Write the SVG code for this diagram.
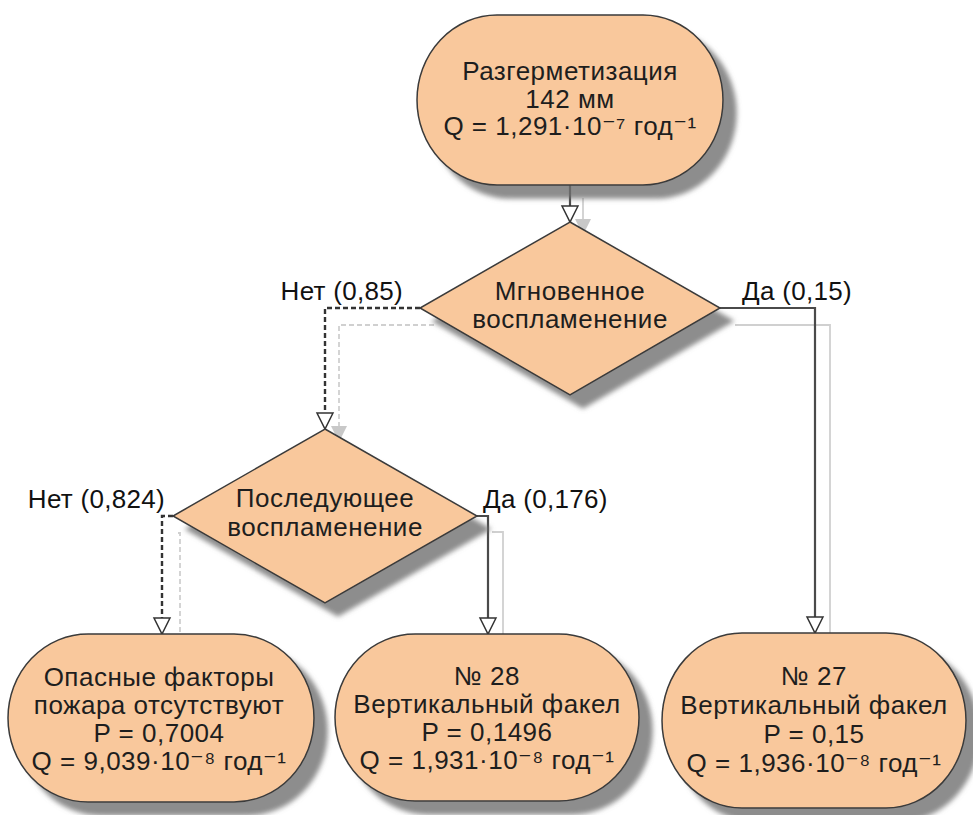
<svg xmlns="http://www.w3.org/2000/svg" width="973" height="815" viewBox="0 0 973 815">
<defs>
<filter id="sh" x="-10%" y="-10%" width="130%" height="130%">
<feDropShadow dx="13" dy="13" stdDeviation="2.5" flood-color="#707070" flood-opacity="0.8"/>
</filter>
<marker id="arr" markerUnits="userSpaceOnUse" markerWidth="20" markerHeight="20" refX="16" refY="8" orient="auto" viewBox="-2 -2 20 20">
<path d="M0,0 L16,8 L0,16 Z" fill="#fff" stroke="#333" stroke-width="1.5"/>
</marker>
<marker id="arrs" markerUnits="userSpaceOnUse" markerWidth="20" markerHeight="20" refX="16" refY="8" orient="auto" viewBox="-2 -2 20 20">
<path d="M0,0 L16,8 L0,16 Z" fill="#c8c8c8"/>
</marker>
</defs>
<style>
.n{fill:#F9C89C;stroke:#3a3a3a;stroke-width:1.5;filter:url(#sh)}
.t{font-family:"Liberation Sans","DejaVu Sans",sans-serif;font-size:26px;letter-spacing:0.5px;fill:#1e1e1e;text-anchor:middle}
.l{font-family:"Liberation Sans","DejaVu Sans",sans-serif;font-size:26px;letter-spacing:0.3px;fill:#111}
.c{fill:none;stroke:#4a4a4a;stroke-width:2.2}
.d{stroke-dasharray:5 3}
.cd{stroke:#333;stroke-width:2.4}
.s{fill:none;stroke:#d0d0d0;stroke-width:1.8}
</style>
<g id="connectors">
<path class="s" d="M583,198 V235" marker-end="url(#arrs)"/>
<path class="s d" d="M434,325 H339 V442" marker-end="url(#arrs)"/>
<path class="s" d="M735,325 H830 V645"/>
<path class="s d" d="M178,533 H180 V645"/>
<path class="s" d="M492,532 H503 V645"/>
<path class="c" d="M570,185 V222" marker-end="url(#arr)"/>
<path class="c d cd" d="M420,308 H325 V429" marker-end="url(#arr)"/>
<path class="c" d="M720,308 H815 V633" marker-end="url(#arr)"/>
<path class="c d cd" d="M173,516 H162 V634" marker-end="url(#arr)"/>
<path class="c" d="M477,516 H488 V634" marker-end="url(#arr)"/>
<text class="l" x="403" y="300" text-anchor="end">Нет (0,85)</text>
<text class="l" x="742" y="300">Да (0,15)</text>
<text class="l" x="165" y="508" text-anchor="end">Нет (0,824)</text>
<text class="l" x="483" y="508">Да (0,176)</text>
</g>
<g id="start">
<rect class="n" x="417" y="15" width="306" height="170" rx="80" ry="85"/>
<text class="t" x="570" y="80">Разгерметизация</text>
<text class="t" x="570" y="107.5">142 мм</text>
<text class="t" x="570" y="135">Q = 1,291·10⁻⁷ год⁻¹</text>
</g>
<g id="d1">
<polygon class="n" points="570,222 720,308 570,395 420,308"/>
<text class="t" x="570" y="300">Мгновенное</text>
<text class="t" x="570" y="328">воспламенение</text>
</g>
<g id="d2">
<polygon class="n" points="325,429 477,516 325,603 173,516"/>
<text class="t" x="325" y="507">Последующее</text>
<text class="t" x="325" y="536">воспламенение</text>
</g>
<g id="e1">
<rect class="n" x="8" y="634" width="306" height="168" rx="80" ry="84"/>
<text class="t" x="159" y="686">Опасные факторы</text>
<text class="t" x="159" y="714">пожара отсутствуют</text>
<text class="t" x="159" y="742">P = 0,7004</text>
<text class="t" x="159" y="770">Q = 9,039·10⁻⁸ год⁻¹</text>
</g>
<g id="e2">
<rect class="n" x="335" y="634" width="304" height="167" rx="80" ry="83.5"/>
<text class="t" x="487" y="685">№ 28</text>
<text class="t" x="487" y="713">Вертикальный факел</text>
<text class="t" x="487" y="741">P = 0,1496</text>
<text class="t" x="487" y="769">Q = 1,931·10⁻⁸ год⁻¹</text>
</g>
<g id="e3">
<rect class="n" x="662" y="633" width="304" height="175" rx="80" ry="87.5"/>
<text class="t" x="814" y="685">№ 27</text>
<text class="t" x="814" y="714">Вертикальный факел</text>
<text class="t" x="814" y="743">P = 0,15</text>
<text class="t" x="814" y="772">Q = 1,936·10⁻⁸ год⁻¹</text>
</g>
</svg>
